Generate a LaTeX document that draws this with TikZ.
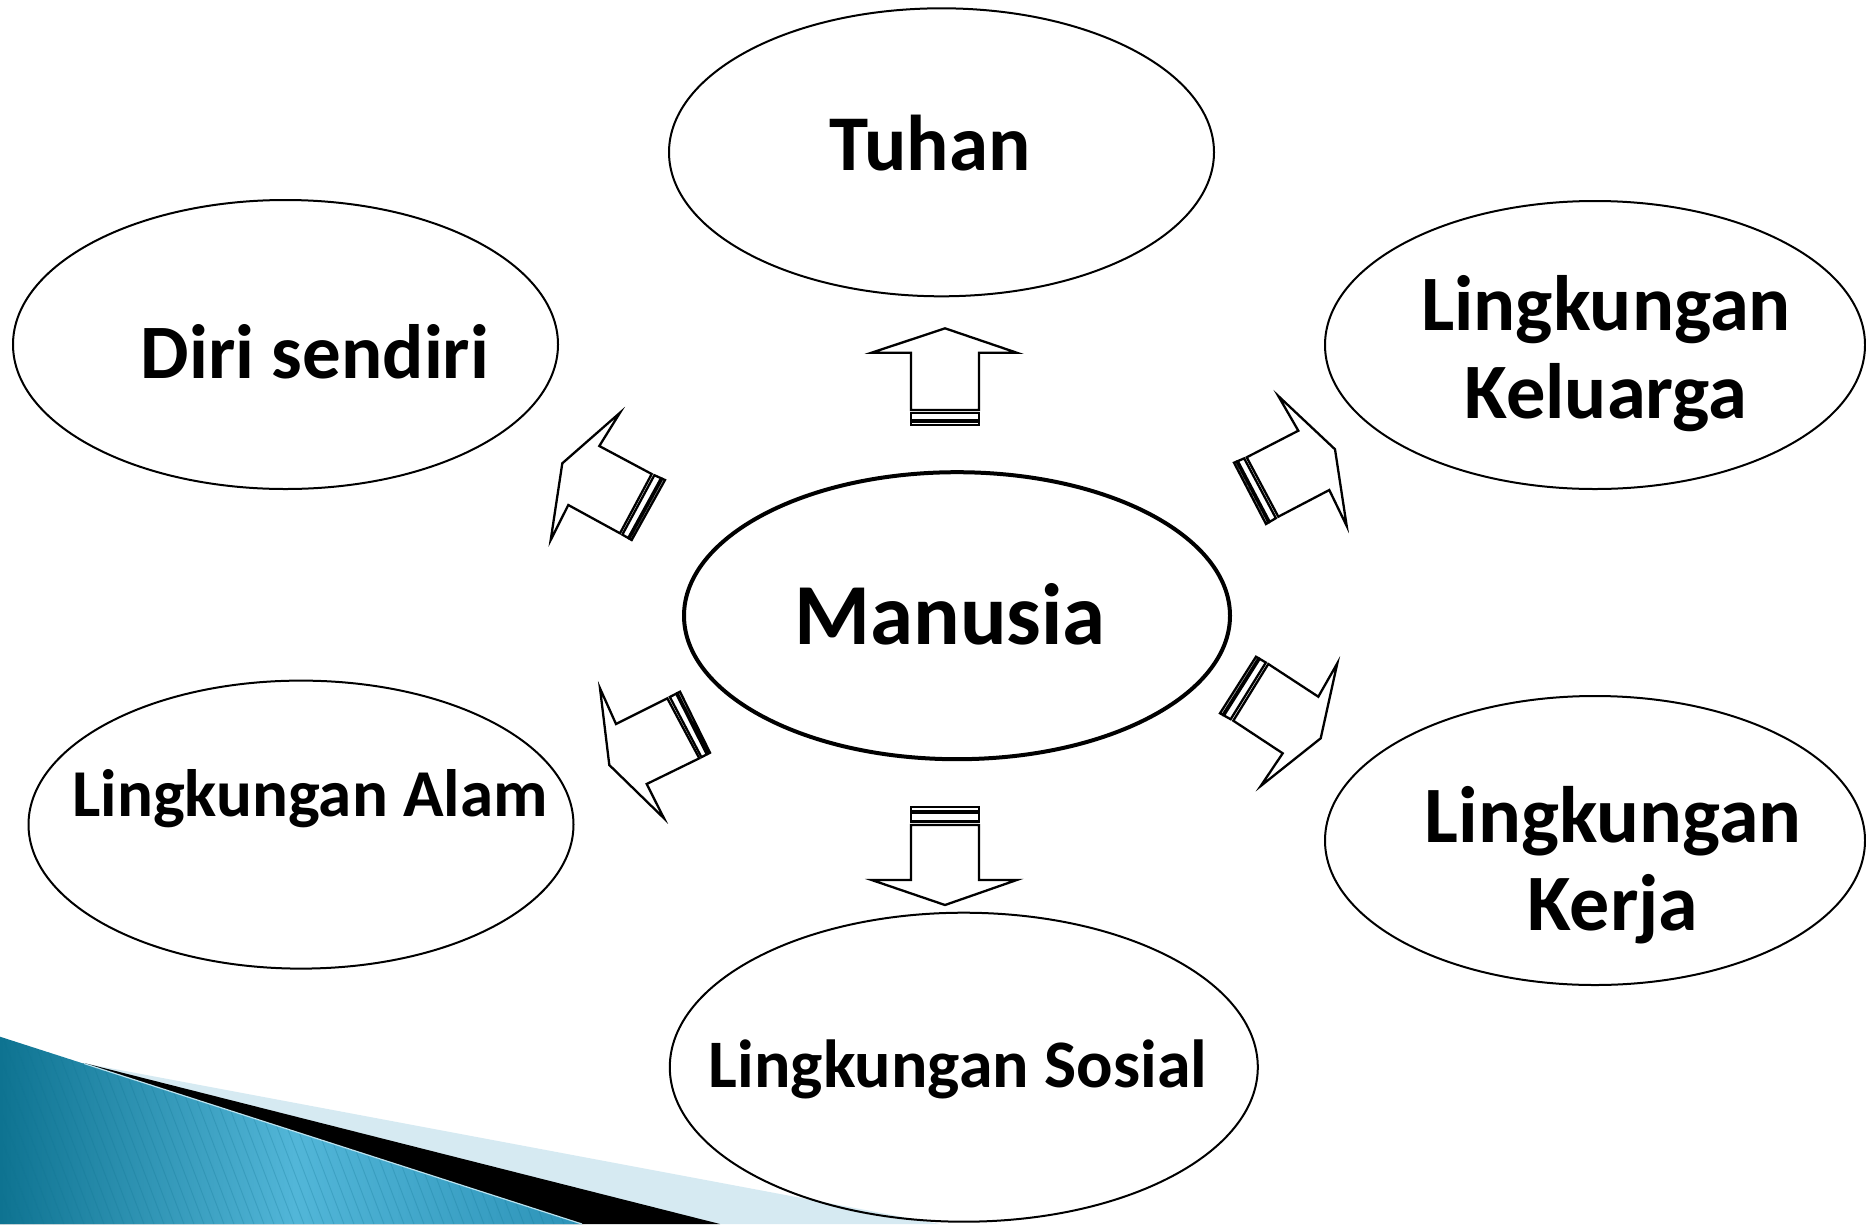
\documentclass[tikz,border=0pt]{standalone}
\usepackage{fontspec}
\setmainfont{Carlito}
\usetikzlibrary{calc,shapes.geometric}
\definecolor{bandlight}{HTML}{D6EAF2}
\definecolor{tealdark}{HTML}{0E7391}
\definecolor{tealmid}{HTML}{52B6D8}
\definecolor{tealright}{HTML}{2B92B7}
\newcommand\stripedarr[9]{%
  \draw[arr] (#1)--(#2)--(#3)--(#4)--(#7)--(#8)--(#9)--cycle;
  \draw[arr] ($(#5)!0!(#4)$)--($(#5)!0.2!(#4)$)--($(#6)!0.2!(#7)$)--($(#6)!0!(#7)$)--cycle;
  \draw[arr] ($(#5)!0.3!(#4)$)--($(#5)!0.8!(#4)$)--($(#6)!0.8!(#7)$)--($(#6)!0.3!(#7)$)--cycle;
}
\begin{document}
\begin{tikzpicture}[x=1pt,y=-1pt,
  ell/.style={draw,ellipse,line width=2pt,inner sep=0pt},
  lbl/.style={anchor=base,inner sep=0pt,font=\fontsize{#1}{#1}\selectfont\bfseries},
  arr/.style={draw,line width=2.3pt,line join=miter,fill=white}]
\useasboundingbox (0,0) rectangle (1866,1224);
% bottom-left decoration
\fill[bandlight] (88,1064) -- (940,1224) -- (0,1224) -- cycle;
\fill[black] (84,1063) -- (720,1224) -- (0,1224) -- cycle;
\begin{scope}
  \clip (0,1036.7) -- (582,1224) -- (0,1224) -- cycle;
  \shade[left color=tealdark, right color=tealright, middle color=tealmid] (0,1030) rectangle (590,1224);
  \foreach \k in {-30,...,60} \draw[tealdark, opacity=0.25, line width=0.9pt] (\k*10,1030) -- ++(80,210);
\end{scope}
\draw[tealmid!40!white, line width=1.2pt] (84,1063.5) -- (582,1224);
% ellipses
\node[ell, minimum width=545pt, minimum height=288pt] (tuhanE) at (941.5,152.3) {};
\node[ell, minimum width=545pt, minimum height=289pt] (diriE) at (285.5,344.5) {};
\node[ell, minimum width=540pt, minimum height=288pt] (kelE) at (1595,345) {};
\node[ell, line width=4pt, minimum width=546pt, minimum height=287pt] (manE) at (957,615.7) {};
\node[ell, minimum width=545pt, minimum height=288pt] (alamE) at (301,824.6) {};
\node[ell, minimum width=540pt, minimum height=289pt] (kerE) at (1595,840.5) {};
\node[ell, minimum width=588pt, minimum height=309pt] (sosE) at (963.8,1067.2) {};
% texts
\node[lbl=79] (tuhanT) at (930,170) {Tuhan};
\node[lbl=87] (manT) at (950,644) {Manusia};
\node[lbl=77] (diriT) at (315,378) {Diri sendiri};
\node[lbl=78.5] (kelA) at (1606,330) {Lingkungan};
\node[lbl=78.5] (kelB) at (1606,418) {Keluarga};
\node[lbl=80] (kerA) at (1613,842) {Lingkungan};
\node[lbl=80] (kerB) at (1613,930) {Kerja};
\node[lbl=67] (alamT) at (310,816) {Lingkungan Alam};
\node[lbl=68] (sosT) at (958,1087) {Lingkungan Sosial};
% striped block arrows
\stripedarr{945,328.3}{871.7,352.7}{911,352.7}{911,410}{911,425}{979,425}{979,410}{979,352.7}{1016.7,352.7}
\stripedarr{945,905}{871.7,880}{911,880}{911,825}{911,807.3}{979,807.3}{979,825}{979,880}{1016.7,880}
\stripedarr{562.3,463.3}{620,412.7}{599.3,446}{651.7,474}{665,480}{631.7,540}{620,533.3}{568.3,505}{550.7,540}
\stripedarr{1335,449.3}{1278.3,396}{1298.3,430.7}{1246.7,457.3}{1234,462.7}{1266,524}{1278.3,516.7}{1329.3,490}{1346.7,526}
\stripedarr{1320.7,738.3}{1337.3,663.3}{1318.3,696.7}{1268.3,664}{1256,656.7}{1220,713.3}{1233.3,720.7}{1282.7,753.3}{1260.7,786}
\stripedarr{609.3,765}{600,688.3}{616,724}{667.3,698.3}{680,691.7}{710,752.7}{699.3,758.3}{646.7,784}{664,818.3}
\end{tikzpicture}
\end{document}
